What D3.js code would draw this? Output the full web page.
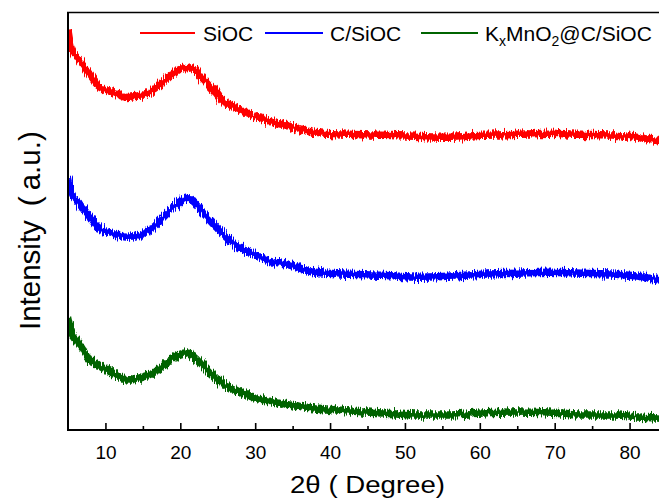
<!DOCTYPE html>
<html>
<head>
<meta charset="utf-8">
<script src="https://cdn.jsdelivr.net/npm/d3@7"></script>
<style>
  html, body { margin: 0; padding: 0; background: #fff; }
  svg { display: block; font-family: Arial, "Liberation Sans", sans-serif; }
</style>
</head>
<body>
<svg id="chart" width="659" height="501"></svg>
<script>
// 2θ positions (degrees) at which the curves were read
const twoTheta = [5, 5.5, 6.5, 8, 9, 11, 13, 14.5, 16.3, 17.6, 19, 20.8, 21.6, 23, 24.3, 25.6, 27.4, 29.6, 32.3, 33.6, 38, 42.5, 47, 51.4, 55.8, 60.3, 64.8, 69.2, 73.6, 78.1, 81.2, 83.5, 85];
// intensities (a.u., stacked/offset as in the figure)
const siocValues  = [401, 381, 370, 355, 345, 338, 333, 335, 340, 348, 357, 363, 362, 352, 342, 330, 323, 315, 308, 306, 298, 296, 295, 294, 293, 295, 296, 297, 296, 295, 293, 290, 289];
const csiocValues = [253, 238, 227, 212, 203, 197, 193, 195, 202, 212, 222, 232, 230, 218, 207, 197, 185, 177, 168, 167, 158, 156, 155, 153, 154, 156, 157, 158, 157, 156, 154, 151, 150];
const kmnoValues  = [113, 98, 87, 70, 65, 57, 50, 52, 57, 63, 72, 77, 75, 65, 55, 47, 40, 33, 28, 26, 22, 19, 17, 15, 15, 17, 18, 17, 15, 15, 13, 12, 11];
const xTicks = [10, 20, 30, 40, 50, 60, 70, 80];
const xMinorTicks = [15, 25, 35, 45, 55, 65, 75, 85];
const seriesNames = ["SiOC", "C/SiOC", "KxMnO2@C/SiOC"];
const seriesColors = ["#ff0000", "#0000ff", "#006400"];

const svg = d3.select("#chart");
const W = 659, H = 501;
const mLeft = 68, mTop = 12.5, mBottom = 430;

const x = d3.scaleLinear().domain([5, 85]).range([mLeft, 667]);
const y = d3.scaleLinear().domain([0, 418]).range([mBottom, mTop]);

// noise texture filter (visual styling of the scan line)
const defs = svg.append("defs");
const f = defs.append("filter").attr("id", "noisy")
  .attr("filterUnits", "userSpaceOnUse")
  .attr("x", 0).attr("y", 0).attr("width", W).attr("height", H);
f.append("feTurbulence").attr("type", "fractalNoise")
  .attr("baseFrequency", "0.9 0.04").attr("numOctaves", 2).attr("seed", 4).attr("result", "t");
f.append("feDisplacementMap").attr("in", "SourceGraphic").attr("in2", "t")
  .attr("scale", 10).attr("xChannelSelector", "G").attr("yChannelSelector", "R");

defs.append("clipPath").attr("id", "plotclip")
  .append("rect").attr("x", mLeft + 1).attr("y", mTop).attr("width", W - mLeft).attr("height", mBottom - mTop);

const allSeries = [siocValues, csiocValues, kmnoValues];
const line = d3.line()
  .x((d, i) => x(twoTheta[i]))
  .y(d => y(d))
  .curve(d3.curveMonotoneX);

const g = svg.append("g").attr("clip-path", "url(#plotclip)");
allSeries.forEach((vals, k) => {
  g.append("path")
    .datum(vals)
    .attr("d", line)
    .attr("fill", "none")
    .attr("stroke", seriesColors[k])
    .attr("stroke-width", 7.5)
    .attr("filter", "url(#noisy)");
});

// x axis
const xAxis = d3.axisBottom(x).tickValues(xTicks).tickSizeInner(-7).tickSizeOuter(0).tickPadding(16).tickFormat(d3.format("d"));
const ax = svg.append("g").attr("transform", `translate(0,${mBottom})`).call(xAxis);
ax.select(".domain").attr("stroke", "#000").attr("stroke-width", 2).attr("d", `M${mLeft},0H${W}`);
ax.selectAll(".tick line").attr("stroke", "#000").attr("stroke-width", 1.6);
ax.selectAll(".tick text").attr("font-size", 19).attr("fill", "#000").attr("font-family", "Arial, 'Liberation Sans', sans-serif");
const minor = d3.axisBottom(x).tickValues(xMinorTicks).tickSizeInner(-4).tickSizeOuter(0).tickFormat("");
const mx = svg.append("g").attr("transform", `translate(0,${mBottom})`).call(minor);
mx.select(".domain").remove();
mx.selectAll(".tick line").attr("stroke", "#000").attr("stroke-width", 1.6);

// left axis and top frame
svg.append("line").attr("x1", mLeft).attr("x2", mLeft).attr("y1", mTop).attr("y2", mBottom + 1)
  .attr("stroke", "#000").attr("stroke-width", 2);
svg.append("line").attr("x1", mLeft - 1).attr("x2", W).attr("y1", mTop).attr("y2", mTop)
  .attr("stroke", "#000").attr("stroke-width", 1.5);

// axis titles
svg.append("text").attr("x", 290).attr("y", 493).attr("text-anchor", "start")
  .attr("font-size", 23).attr("fill", "#000")
  .attr("textLength", 155).attr("lengthAdjust", "spacingAndGlyphs")
  .text("2θ ( Degree)");
const yt = svg.append("text").attr("transform", "translate(40,330) rotate(-90)").attr("text-anchor", "start")
  .attr("font-size", 29.5).attr("fill", "#000");
yt.append("tspan").text("Intensity");
yt.append("tspan").attr("dx", 14).text("(");
yt.append("tspan").attr("dx", 6).text("a.u.)");

// legend
const legendItems = [
  { x1: 140, x2: 195, tx: 203 },
  { x1: 265, x2: 323, tx: 330 },
  { x1: 421, x2: 478, tx: 485 }
];
legendItems.forEach((it, k) => {
  svg.append("line").attr("x1", it.x1).attr("x2", it.x2).attr("y1", 33).attr("y2", 33)
    .attr("stroke", seriesColors[k]).attr("stroke-width", 2);
  const t = svg.append("text").attr("x", it.tx).attr("y", 41).attr("font-size", 21).attr("fill", "#000");
  if (k < 2) {
    t.text(seriesNames[k]);
  } else {
    t.append("tspan").text("K");
    t.append("tspan").attr("font-size", 14).attr("dy", 5).text("x");
    t.append("tspan").attr("dy", -5).text("MnO");
    t.append("tspan").attr("font-size", 14).attr("dy", 5).text("2");
    t.append("tspan").attr("dy", -5).text("@C/SiOC");
  }
});
</script>
</body>
</html>
